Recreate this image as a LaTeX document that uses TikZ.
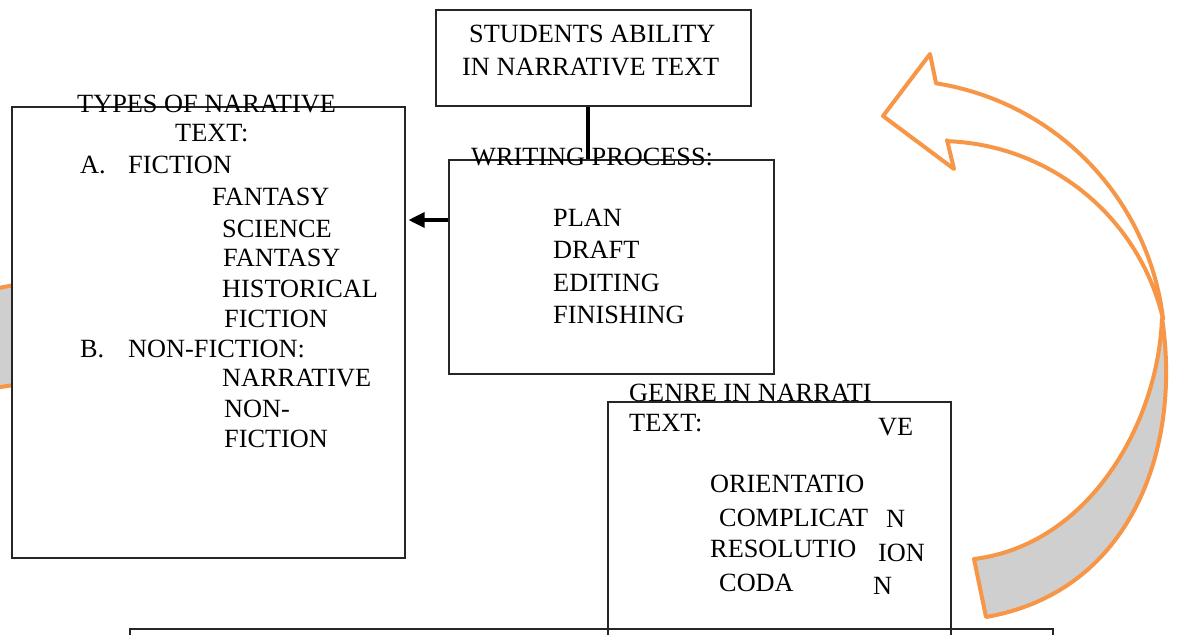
\documentclass[tikz,border=0pt]{standalone}
\usepackage{fontspec}
\setmainfont{Liberation Serif}
\usetikzlibrary{arrows.meta}
\definecolor{accorange}{HTML}{F79646}
\definecolor{bandgray}{HTML}{CFCFCF}
\newcommand{\tfont}{\fontsize{26.3}{31}\selectfont}
\tikzset{
  boxnode/.style={draw=black!85, line width=1.1pt, inner sep=0pt},
  txt/.style={anchor=base west, inner sep=0pt, font=\tfont},
  conn/.style={draw=black, line width=3.2pt},
  arrowline/.style={draw=accorange, line width=4pt, line join=round}
}
\begin{document}
\begin{tikzpicture}[x=1pt,y=-1pt]
\useasboundingbox (0,0) rectangle (1177,634);
\clip (0,0) rectangle (1177,634);
% partly hidden orange shape behind the left box
\fill[bandgray] (-6,289) -- (14,285) -- (14,385) -- (-6,388) -- cycle;
\draw[accorange, line width=4pt] (-6,289) -- (14,285);
\draw[accorange, line width=4pt] (-6,388) -- (14,385);
% boxes
\node[boxnode, fill=white, minimum width=393pt, minimum height=451pt] (types) at (208.5,332.5) {};
\node[boxnode, minimum width=315pt, minimum height=96pt] (students) at (593.5,58) {};
\node[boxnode, minimum width=325pt, minimum height=214pt] (writing) at (611.5,267) {};
\node[boxnode, minimum width=923pt, minimum height=171pt] (bottom) at (591.5,714.5) {};
\node[boxnode, minimum width=343pt, minimum height=300pt] (genre) at (779.5,552) {};
% connectors
\draw[conn] ([xshift=-5.5pt]students.south) -- ([xshift=-5.5pt]students.south |- writing.north);
\draw[conn, -{Triangle[length=16pt,width=15pt]}, shorten >=3pt] ([yshift=47pt]writing.west) -- ([yshift=47pt]writing.west -| types.east);
% curved arrow (white front part)
\filldraw[arrowline, fill=white] (936,83) -- (930,54) -- (883,116) -- (954,169) -- (947,140)
  -- plot[domain=-88:-13, samples=40] ({939+230*cos(\x)},{371+230*sin(\x)})
  -- plot[domain=-7:-81, samples=40] ({894+271*cos(\x)},{351+271*sin(\x)}) -- cycle;
% curved arrow (gray back part)
\filldraw[arrowline, fill=bandgray] (1162,318)
  .. controls (1158,425) and (1088,545) .. (974,559)
  -- (986,617)
  .. controls (1130,592) and (1182,450) .. (1162,318) -- cycle;
% students box text
\node[txt] (s1) at (469,43) {STUDENTS ABILITY};
\node[txt] (s2) at (462,75) {IN NARRATIVE TEXT};
% writing box text
\node[txt] (w0) at (471,165) {WRITING PROCESS:};
\node[txt] (w1) at (553,226) {PLAN};
\node[txt] (w2) at (553,258) {DRAFT};
\node[txt] (w3) at (553,291) {EDITING};
\node[txt] (w4) at (553,323) {FINISHING};
% types box text
\node[txt] (t0) at (77,112) {TYPES OF NARATIVE};
\node[txt] (t1) at (175,141) {TEXT:};
\node[txt] (t2a) at (80,173) {A.};
\node[txt] (t2b) at (128,173) {FICTION};
\node[txt] (t3) at (212,205) {FANTASY};
\node[txt] (t4) at (222,237) {SCIENCE};
\node[txt] (t5) at (223,266) {FANTASY};
\node[txt] (t6) at (222,297) {HISTORICAL};
\node[txt] (t7) at (224,327) {FICTION};
\node[txt] (t8a) at (80,357) {B.};
\node[txt] (t8b) at (128,357) {NON-FICTION:};
\node[txt] (t9) at (222,386) {NARRATIVE};
\node[txt] (t10) at (224,417) {NON-};
\node[txt] (t11) at (224,447) {FICTION};
% genre box text
\node[txt] (g0) at (629,401) {GENRE IN NARRATI};
\node[txt] (g1) at (629,431) {TEXT:};
\node[txt] (g1b) at (878,435) {VE};
\node[txt] (g2) at (710,492) {ORIENTATIO};
\node[txt] (g3) at (719,526) {COMPLICAT};
\node[txt] (g3b) at (886,527) {N};
\node[txt] (g4) at (710,557) {RESOLUTIO};
\node[txt] (g4b) at (878,561) {ION};
\node[txt] (g5) at (719,591) {CODA};
\node[txt] (g5b) at (873,594) {N};
\end{tikzpicture}
\end{document}
